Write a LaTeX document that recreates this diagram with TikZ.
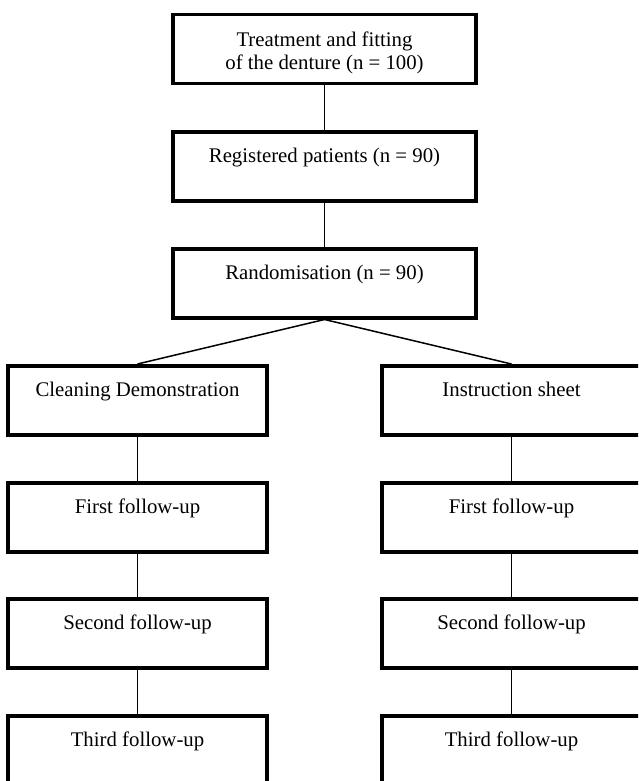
\documentclass[tikz,border=0pt]{standalone}
\usepackage{fontspec}
\setmainfont{Liberation Serif}
\begin{document}
\begin{tikzpicture}[x=1pt,y=-1pt,
  boxb/.style={draw=black, line width=3.5pt, rectangle, inner sep=0pt, minimum width=259pt, text height=31pt, text depth=38pt, font=\fontsize{20.8}{23}\selectfont},
  boxc/.style={boxb, minimum width=303pt},
  link/.style={draw=black, line width=1.5pt}]
\useasboundingbox (0,0) rectangle (638,781);
\clip (0,0) rectangle (638,781);
\node[boxc, anchor=north, text height=32pt, text depth=37pt] (top) at (324.5,13) {\begin{tabular}[t]{@{}c@{}}Treatment and fitting\\of the denture (n = 100)\end{tabular}};
\node[boxc, anchor=north] (reg) at (324.5,130) {Registered patients (n = 90)};
\node[boxc, anchor=north] (rnd) at (324.5,247) {Randomisation (n = 90)};
\node[boxb, anchor=north] (cd) at (137.5,364) {Cleaning Demonstration};
\node[boxb, anchor=north] (is) at (511.5,364) {Instruction sheet};
\node[boxb, anchor=north] (l1) at (137.5,481) {First follow-up};
\node[boxb, anchor=north] (r1) at (511.5,481) {First follow-up};
\node[boxb, anchor=north] (l2) at (137.5,597) {Second follow-up};
\node[boxb, anchor=north] (r2) at (511.5,597) {Second follow-up};
\node[boxb, anchor=north] (l3) at (137.5,714) {Third follow-up};
\node[boxb, anchor=north] (r3) at (511.5,714) {Third follow-up};
\draw[link] (top) -- (reg);
\draw[link] (reg) -- (rnd);
\draw[link] (rnd.south) -- (cd.north);
\draw[link] (rnd.south) -- (is.north);
\draw[link] (cd) -- (l1);
\draw[link] (l1) -- (l2);
\draw[link] (l2) -- (l3);
\draw[link] (is) -- (r1);
\draw[link] (r1) -- (r2);
\draw[link] (r2) -- (r3);
\end{tikzpicture}
\end{document}
